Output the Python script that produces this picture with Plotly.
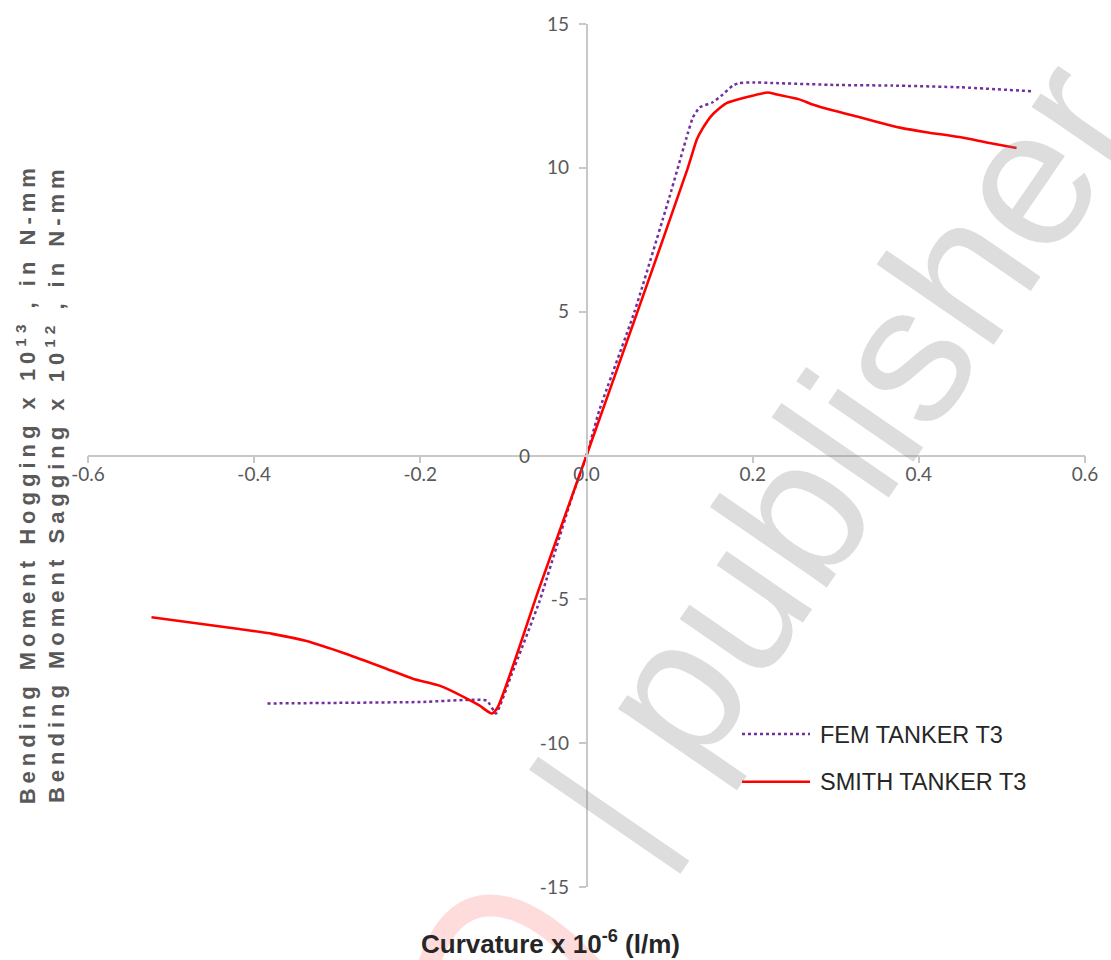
import plotly.graph_objects as go

# Curvature (x 1e-6 1/m) and bending moment readings for tanker T3
fem_curv = [-0.384, -0.30, -0.20, -0.12, -0.109, -0.09, -0.0566, -0.0168, 0.0,
            0.0156, 0.0578, 0.100, 0.1219, 0.128, 0.136, 0.152, 0.164,
            0.176, 0.184, 0.200, 0.224, 0.300, 0.368, 0.450, 0.537]
fem_moment = [-8.62, -8.60, -8.57, -8.52, -8.97, -7.60, -5.07, -1.38, 0.0,
              1.59, 5.0, 9.0, 11.2, 11.75, 12.1, 12.28, 12.55,
              12.86, 12.95, 12.97, 12.95, 12.88, 12.86, 12.80, 12.66]

smith_curv = [-0.5236, -0.418, -0.378, -0.337, -0.289, -0.241, -0.209, -0.177,
              -0.144, -0.129, -0.114, -0.107, -0.057, 0.0, 0.0614, 0.122,
              0.133, 0.140, 0.150, 0.160, 0.168, 0.192, 0.218, 0.229, 0.256,
              0.272, 0.296, 0.329, 0.365, 0.380, 0.409, 0.449, 0.485, 0.5176]
smith_moment = [-5.62, -6.03, -6.20, -6.45, -6.90, -7.41, -7.76, -8.00,
                -8.45, -8.69, -8.97, -8.76, -4.62, 0.0, 5.0, 10.0,
                11.0, 11.38, 11.80, 12.07, 12.24, 12.45, 12.62, 12.55, 12.38,
                12.20, 12.00, 11.76, 11.48, 11.38, 11.24, 11.07, 10.86, 10.69]

x_ticks = [-0.6, -0.4, -0.2, 0.0, 0.2, 0.4, 0.6]
x_tick_text = ["-0.6", "-0.4", "-0.2", "0.0", "0.2", "0.4", "0.6"]
y_ticks = [-15, -10, -5, 0, 5, 10, 15]
y_tick_text = ["-15", "-10", "-5", "", "5", "10", "15"]

series_names = ["FEM TANKER T3", "SMITH TANKER T3"]
fem_color = "#7030A0"
smith_color = "#FF0000"
axis_grey = "#C8C8C8"
label_grey = "#595959"

W, H = 1111, 960
L, R, T, B = 88, 26, 18, 73


def px(xp):
    return (xp - L) / (W - L - R)


def py(yp):
    return (H - B - yp) / (H - T - B)


fig = go.Figure()
fig.add_trace(go.Scatter(
    x=fem_curv, y=fem_moment, name=series_names[0], mode="lines",
    line=dict(color=fem_color, width=2.5, dash="dot", shape="spline", smoothing=0.4),
    showlegend=False))
fig.add_trace(go.Scatter(
    x=smith_curv, y=smith_moment, name=series_names[1], mode="lines",
    line=dict(color=smith_color, width=2.6, shape="spline", smoothing=0.6),
    showlegend=False))

tick_font = dict(family="Lato, Carlito, sans-serif", size=19, color=label_grey)

fig.update_layout(
    width=W, height=H,
    margin=dict(l=L, r=R, t=T, b=B, pad=0),
    paper_bgcolor="white", plot_bgcolor="white",
    showlegend=False,
    xaxis=dict(range=[-0.6, 0.6], tickvals=x_ticks, ticktext=x_tick_text,
               anchor="free", position=0.5, showline=True, linecolor=axis_grey,
               linewidth=1.5, ticks="outside", ticklen=7, tickcolor=axis_grey,
               tickwidth=1.5, showgrid=False, zeroline=False, tickfont=tick_font,
               ticklabelstandoff=-5),
    yaxis=dict(range=[-15, 15], tickvals=y_ticks, ticktext=y_tick_text,
               anchor="free", position=0.5, showline=True, linecolor=axis_grey,
               linewidth=1.5, ticks="outside", ticklen=7, tickcolor=axis_grey,
               tickwidth=1.5, showgrid=False, zeroline=False, tickfont=tick_font,
               ticklabelstandoff=6),
)

annotations = [
    # vertical axis title (index 0, letter-spaced after render)
    dict(text="<b>Bending Moment Hogging x 10<sup>13</sup> , in N-mm</b><br>"
              "<b>Bending Moment Sagging x 10<sup>12</sup> , in N-mm</b>",
         x=px(41), y=py(481), xref="paper", yref="paper", showarrow=False,
         textangle=-90, xanchor="center", yanchor="middle",
         font=dict(family="Liberation Sans, Arial, sans-serif", size=22,
                   color="#595959")),
    dict(text="<b>Curvature x 10<sup>-6</sup> (l/m)</b>",
         x=px(550), y=py(943), xref="paper", yref="paper", showarrow=False,
         xanchor="center", yanchor="middle",
         font=dict(family="Liberation Sans, Arial, sans-serif", size=26,
                   color="#262626")),
    # y tick label at the origin sits left of the crossing point
    dict(text="0", x=-0.0746, y=0, xref="x", yref="y", showarrow=False,
         xanchor="center", yanchor="middle", font=tick_font),
    # legend entries
    dict(text=series_names[0], x=px(818), y=py(734), xref="paper", yref="paper",
         showarrow=False, xanchor="left", yanchor="middle",
         font=dict(family="Liberation Sans, Arial, sans-serif", size=23.5, color="#262626")),
    dict(text=series_names[1], x=px(818), y=py(781), xref="paper", yref="paper",
         showarrow=False, xanchor="left", yanchor="middle",
         font=dict(family="Liberation Sans, Arial, sans-serif", size=23.5, color="#262626")),
    # faint diagonal watermark
    dict(text="| publisher", x=px(836), y=py(453), xref="paper", yref="paper",
         showarrow=False, xanchor="center", yanchor="middle", textangle=-55.5,
         font=dict(family="Liberation Sans, Arial, sans-serif", size=196,
                   color="rgba(128,128,128,0.27)")),
]
fig.update_layout(annotations=annotations)

shapes = [
    dict(type="line", xref="paper", yref="paper", x0=px(742), x1=px(810),
         y0=py(733), y1=py(733), line=dict(color=fem_color, width=2.5, dash="dot")),
    dict(type="line", xref="paper", yref="paper", x0=px(742), x1=px(810),
         y0=py(781), y1=py(781), line=dict(color=smith_color, width=2.6)),
    # pink logo stroke along the bottom edge
    dict(type="path", xref="paper", yref="paper",
         path=f"M {px(428)},{py(968)} C {px(450)},{py(895)} {px(505)},{py(875)} {px(592)},{py(968)}",
         line=dict(color="rgba(255,60,60,0.18)", width=22)),
]
fig.update_layout(shapes=shapes)

post = """
var gd = document.getElementById('{plot_id}');
function spaceTitle() {
  var t = gd.querySelector('g.annotation[data-index="0"] text');
  if (t) { t.style.letterSpacing = '5px'; }
}
spaceTitle();
gd.on('plotly_afterplot', spaceTitle);
"""

fig.write_html("out.html", post_script=post)
